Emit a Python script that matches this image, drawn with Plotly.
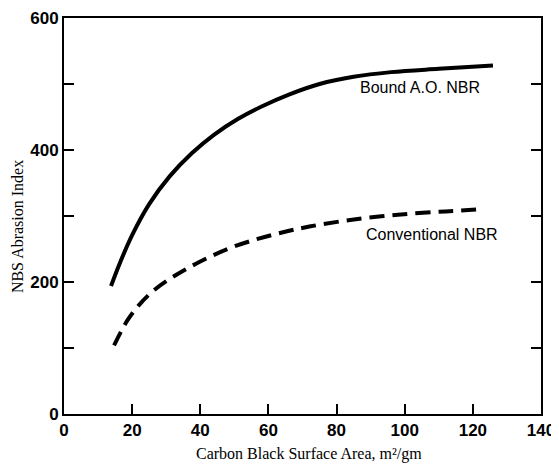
import plotly.graph_objects as go

bound_x = [13.8, 16.5, 20.0, 25.0, 31.0, 37.5, 44.0, 51.0, 58.0, 66.0, 75.0, 85.0, 96.0, 110.0, 125.9]
bound_y = [194, 230, 271, 318, 360, 395, 423, 447, 466, 484, 500, 511, 518, 523, 528]

conv_x = [14.7, 18.5, 22.0, 26.5, 33.0, 40.0, 48.0, 56.0, 64.0, 72.0, 84.0, 98.0, 112.0, 122.0]
conv_y = [104, 141, 165, 188, 211, 231, 250, 264, 275, 284, 294, 302, 307, 310]

x_ticks = [0, 20, 40, 60, 80, 100, 120, 140]
y_ticks = [0, 200, 400, 600]

fig = go.Figure()
fig.add_trace(go.Scatter(x=bound_x, y=bound_y, mode="lines",
                         line=dict(color="black", width=4, shape="spline", smoothing=1.0), showlegend=False))
fig.add_trace(go.Scatter(x=conv_x, y=conv_y, mode="lines",
                         line=dict(color="black", width=4, shape="spline", smoothing=1.0, dash="15px,8px"),
                         showlegend=False))

lab_font = dict(family="Liberation Sans", size=16, color="black")
fig.add_annotation(x=104.4, y=495, text="Bound A.O. NBR", showarrow=False, font=lab_font)
fig.add_annotation(x=108, y=272, text="Conventional NBR", showarrow=False, font=lab_font)

# axis titles (placed as in the reference, slightly off-centre)
fig.add_annotation(xref="paper", yref="paper", x=0.514, y=-0.101, xanchor="center", yanchor="middle",
                   text="Carbon Black Surface Area, m²/gm",
                   showarrow=False, font=dict(family="Liberation Serif", size=16, color="black"))
fig.add_annotation(xref="paper", yref="paper", x=-0.0985, y=0.472, xanchor="center", yanchor="middle",
                   text="NBS Abrasion Index", textangle=-90,
                   showarrow=False, font=dict(family="Liberation Serif", size=16, color="black"))

tick_font = dict(family="Liberation Sans Narrow, Liberation Sans", size=17, color="black", weight="bold")

fig.update_xaxes(range=[0, 140], tickvals=x_ticks, ticktext=[str(v) for v in x_ticks],
                 showgrid=False, zeroline=False, showline=True, linecolor="black", linewidth=2, mirror=True,
                 ticks="inside", tickcolor="black", ticklen=10, tickwidth=2, automargin=False,
                 ticklabeloverflow="allow", tickfont=tick_font)
fig.update_yaxes(range=[0, 600], tickvals=list(range(0, 601, 100)),
                 ticktext=[str(v) if v in y_ticks else "" for v in range(0, 601, 100)],
                 showgrid=False, zeroline=False, showline=True, linecolor="black", linewidth=2, mirror="ticks",
                 ticks="inside", tickcolor="black", ticklen=10, tickwidth=2, automargin=False,
                 ticklabeloverflow="allow", tickfont=tick_font)

# page body has an 8px default margin, so the figure is sized to fit the 559x464 window
fig.update_layout(width=551, height=456, margin=dict(l=56, r=18, t=10, b=50),
                  plot_bgcolor="white", paper_bgcolor="white")
fig.write_html("out.html")
